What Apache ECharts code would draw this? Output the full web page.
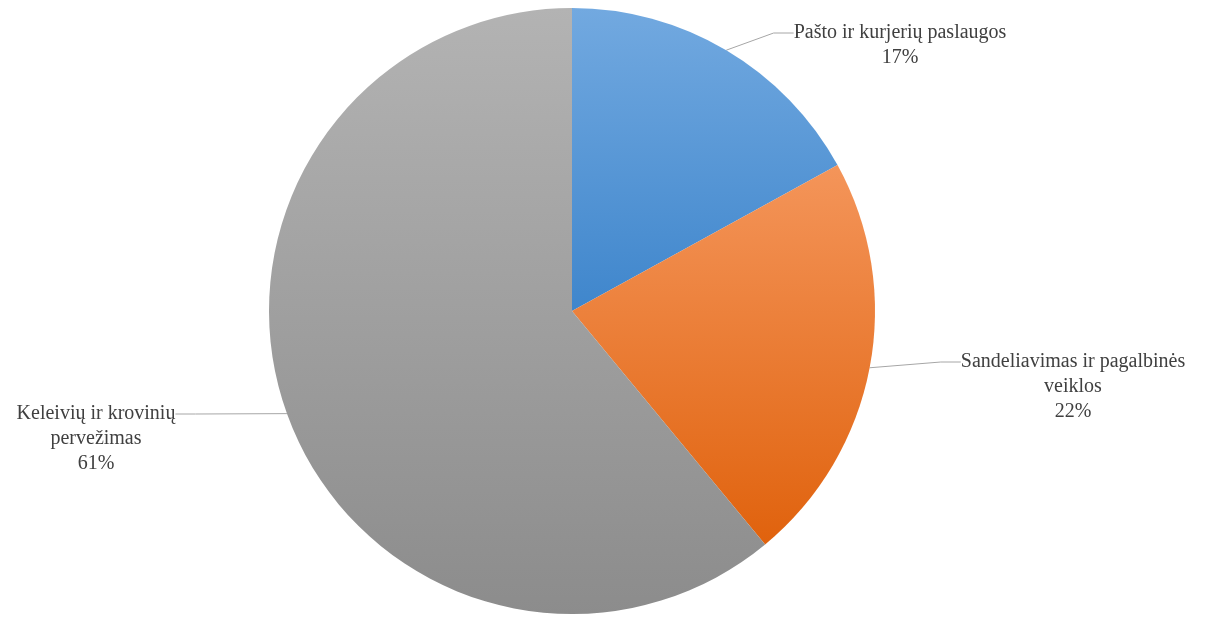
<!DOCTYPE html>
<html>
<head>
<meta charset="utf-8">
<script src="https://cdn.jsdelivr.net/npm/echarts@6/dist/echarts.min.js"></script>
<style>
  html, body { margin: 0; padding: 0; background: #ffffff; }
  #chart { width: 1206px; height: 618px; }
</style>
</head>
<body>
<div id="chart"></div>
<script>
// Sector shares of the transport & logistics activity
const categories = [
  'Pašto ir kurjerių paslaugos',
  'Sandeliavimas ir pagalbinės\nveiklos',
  'Keleivių ir krovinių\npervežimas'
];
const shares = [17, 22, 61];

// Vertical gradient per slice (top colour, bottom colour)
const sliceColors = [
  ['#72a9e0', '#3f86cc'],
  ['#f4955a', '#e0620d'],
  ['#b3b3b3', '#8c8c8c']
];

// Label anchor points: text block centre x, centre y of the first line
const labelAnchors = [
  { x: 900, y: 33 },
  { x: 1073, y: 362 },
  { x: 96, y: 414 }
];

const LINE_H = 25;

const chart = echarts.init(document.getElementById('chart'), null, { renderer: 'canvas' });

const data = categories.map((name, i) => ({
  name,
  value: shares[i],
  itemStyle: {
    color: new echarts.graphic.LinearGradient(0, 0, 0, 1, [
      { offset: 0, color: sliceColors[i][0] },
      { offset: 1, color: sliceColors[i][1] }
    ])
  }
}));

// Blank leading rows put the block's vertical middle on the first text row,
// so the leader line meets the label there
function labelText(p) {
  const rows = p.name.split('\n').concat([p.value + '%']);
  return '\n'.repeat(rows.length - 1) + rows.join('\n');
}

chart.setOption({
  animation: false,
  series: [{
    type: 'pie',
    center: [572, 311],
    radius: 303,
    startAngle: 90,
    clockwise: true,
    avoidLabelOverlap: false,
    data,
    label: {
      show: true,
      position: 'outside',
      formatter: labelText,
      fontFamily: 'Liberation Serif',
      fontSize: 20,
      lineHeight: LINE_H,
      color: '#404040',
      align: 'center'
    },
    labelLine: {
      show: true,
      length: 10,
      length2: 20,
      lineStyle: { color: '#a6a6a6', width: 1 }
    },
    labelLayout: params => {
      const a = labelAnchors[params.dataIndex];
      return { x: a.x, y: a.y, align: 'center', verticalAlign: 'middle' };
    },
    emphasis: { disabled: true }
  }]
});
</script>
</body>
</html>
